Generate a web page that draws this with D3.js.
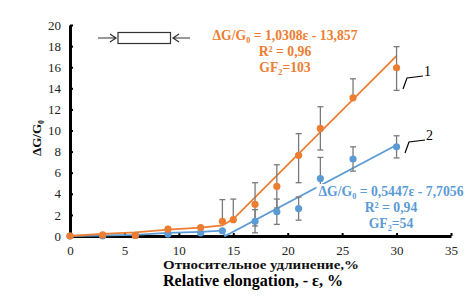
<!DOCTYPE html>
<html><head><meta charset="utf-8">
<script src="https://cdn.jsdelivr.net/npm/d3@7"></script>
<style>body{margin:0;background:#fff}svg{display:block}</style>
</head><body>
<svg id="c" width="476" height="299"></svg>
<script>
// ---- data ----
const xTicks = [0,5,10,15,20,25,30,35];
const yTicks = [0,2,4,6,8,10,12,14,16,18,20];

const strain1 = [0,3,6,9,12,14,15,17,19,21,23,26,30];
const dg1     = [0,0.1,0.05,0.65,0.8,1.4,1.55,3.0,4.7,7.65,10.2,13.1,15.95];
const err1Plus  = [0,0,0,0,0,2.05,1.95,2.05,2.05,2.05,2.05,1.8,2.0];
const err1Minus = [0,0,0,0,0,0,0,2.05,2.05,2.6,2.05,0,2.15];

const strain2 = [0,3,6,9,12,14,17,19,21,23,26,30];
const dg2     = [0,0,0.05,0.2,0.3,0.5,1.4,2.3,2.6,5.45,7.3,8.45];
const err2Plus  = [0,0,0,0,0,0,1.1,1.2,1.1,2.0,1.15,1.05];
const err2Minus = [0,0,0,0,0,0,1.1,1.2,1.1,2.0,1.15,1.05];

// fitted / drawn curves
const line1X = [0,3,6,9,12,14,15,30];
const line1Y = [0,0.2,0.35,0.6,0.8,1.0,1.6,17.07];
const line2X = [0,6,9,12,14,14.25,30];
const line2Y = [0,0.1,0.3,0.4,0.5,0,8.63];

const eq1 = ["ΔG/G₀ = 1,0308ε - 13,857", "R² = 0,96", "GF₂=103"];
const eq2 = ["ΔG/G₀ = 0,5447ε - 7,7056", "R² = 0,94", "GF₂=54"];
const xTitle = "Относительное удлинение,%";
const xTitle2 = "Relative elongation, - ε, %";
const yTitle = "ΔG/G₀";

// ---- drawing ----
const svg = d3.select("#c");
const ORANGE = "#ED7D31", BLUE = "#5B9BD5", GREY = "#7a7a7a";
const serif = "'Liberation Serif','Times New Roman',serif";
const x = d3.scaleLinear().domain([0,35]).range([70,451]);
const y = d3.scaleLinear().domain([0,20]).range([236,25]);

svg.append("rect").attr("width",476).attr("height",299).attr("fill","#fff");

// axes
const gx = svg.append("g").attr("transform","translate(0,236)")
  .call(d3.axisBottom(x).tickValues(xTicks).tickSize(-3).tickPadding(10).tickSizeOuter(0));
const gy = svg.append("g").attr("transform","translate(70,0)")
  .call(d3.axisLeft(y).tickValues(yTicks).tickSize(-3).tickPadding(9).tickSizeOuter(0));
[gx,gy].forEach(g=>{
  g.select(".domain").attr("stroke","#000").attr("stroke-width",3);
  g.selectAll(".tick line").attr("stroke","#000").attr("stroke-width",2);
  g.selectAll(".tick text").attr("font-family",serif).attr("font-size",13).attr("fill","#222");
});

// lines
const lg = d3.line().x(d=>x(d[0])).y(d=>y(d[1]));
svg.append("path").datum(d3.zip(line2X,line2Y)).attr("d",lg)
  .attr("fill","none").attr("stroke",BLUE).attr("stroke-width",1.8);
svg.append("path").datum(d3.zip(line1X,line1Y)).attr("d",lg)
  .attr("fill","none").attr("stroke",ORANGE).attr("stroke-width",1.8);

// error bars
function errBars(xs, ys, ep, em){
  const g = svg.append("g").attr("stroke",GREY).attr("stroke-width",1.3);
  xs.forEach((xv,i)=>{
    if(!ep[i] && !em[i]) return;
    const top = ys[i]+ep[i], bot = ys[i]-em[i];
    g.append("line").attr("x1",x(xv)).attr("x2",x(xv)).attr("y1",y(top)).attr("y2",y(bot));
    if(ep[i]) g.append("line").attr("x1",x(xv)-3).attr("x2",x(xv)+3).attr("y1",y(top)).attr("y2",y(top));
    if(em[i]) g.append("line").attr("x1",x(xv)-3).attr("x2",x(xv)+3).attr("y1",y(bot)).attr("y2",y(bot));
  });
}
errBars(strain2,dg2,err2Plus,err2Minus);
errBars(strain1,dg1,err1Plus,err1Minus);

// markers
svg.append("g").selectAll("circle").data(d3.zip(strain2,dg2)).join("circle")
  .attr("cx",d=>x(d[0])).attr("cy",d=>y(d[1])).attr("r",3.6).attr("fill",BLUE);
svg.append("g").selectAll("circle").data(d3.zip(strain1,dg1)).join("circle")
  .attr("cx",d=>x(d[0])).attr("cy",d=>y(d[1])).attr("r",3.6).attr("fill",ORANGE);

// equation labels
function eqLabel(lines, cx, y0, color){
  const g = svg.append("g");
  lines.forEach((t,i)=>{
    g.append("text").attr("x",cx).attr("y",y0+i*16).attr("text-anchor","middle")
      .attr("font-family",serif).attr("font-weight","bold").attr("font-size",13.7)
      .attr("fill",color).text(t);
  });
  const bb = g.node().getBBox();
  g.insert("rect",":first-child").attr("x",bb.x-2).attr("y",bb.y).attr("width",bb.width+4)
    .attr("height",bb.height).attr("fill","#fff");
}
eqLabel(eq1, 285, 40, ORANGE);
eqLabel(eq2, 391, 196, BLUE);

// series number callouts
function callout(p, label){
  svg.append("path").attr("d",`M${p[0]},${p[1]} L${p[0]+4},${p[1]-11} L${p[0]+20},${p[1]-13}`)
    .attr("fill","none").attr("stroke","#000").attr("stroke-width",1.2);
  svg.append("text").attr("x",p[0]+21).attr("y",p[1]-13).attr("font-family",serif)
    .attr("font-size",14).attr("fill","#000").text(label);
}
callout([403,89],"1");
callout([405,153],"2");

// specimen icon
svg.append("rect").attr("x",118).attr("y",32.5).attr("width",52.5).attr("height",11)
  .attr("fill","#fff").attr("stroke","#333").attr("stroke-width",1.2);
const ar = svg.append("g").attr("stroke","#333").attr("stroke-width",1.2).attr("fill","none");
ar.append("path").attr("d","M98,38 L116,38 M110,34 L116,38 L110,42");
ar.append("path").attr("d","M190,38 L173,38 M179,34 L173,38 L179,42");

// axis titles
svg.append("text").attr("x",163).attr("y",269)
  .attr("font-family",serif).attr("font-weight","bold").attr("font-size",12)
  .attr("textLength",196).attr("lengthAdjust","spacingAndGlyphs")
  .attr("fill","#111").text(xTitle);
svg.append("text").attr("x",163).attr("y",286)
  .attr("font-family",serif).attr("font-weight","bold").attr("font-size",16)
  .attr("textLength",180).attr("lengthAdjust","spacingAndGlyphs")
  .attr("fill","#000").text(xTitle2);
svg.append("text").attr("transform","translate(41,138) rotate(-90)").attr("text-anchor","middle")
  .attr("font-family",serif).attr("font-weight","bold").attr("font-size",13)
  .attr("fill","#111").text(yTitle);
</script>
</body></html>
